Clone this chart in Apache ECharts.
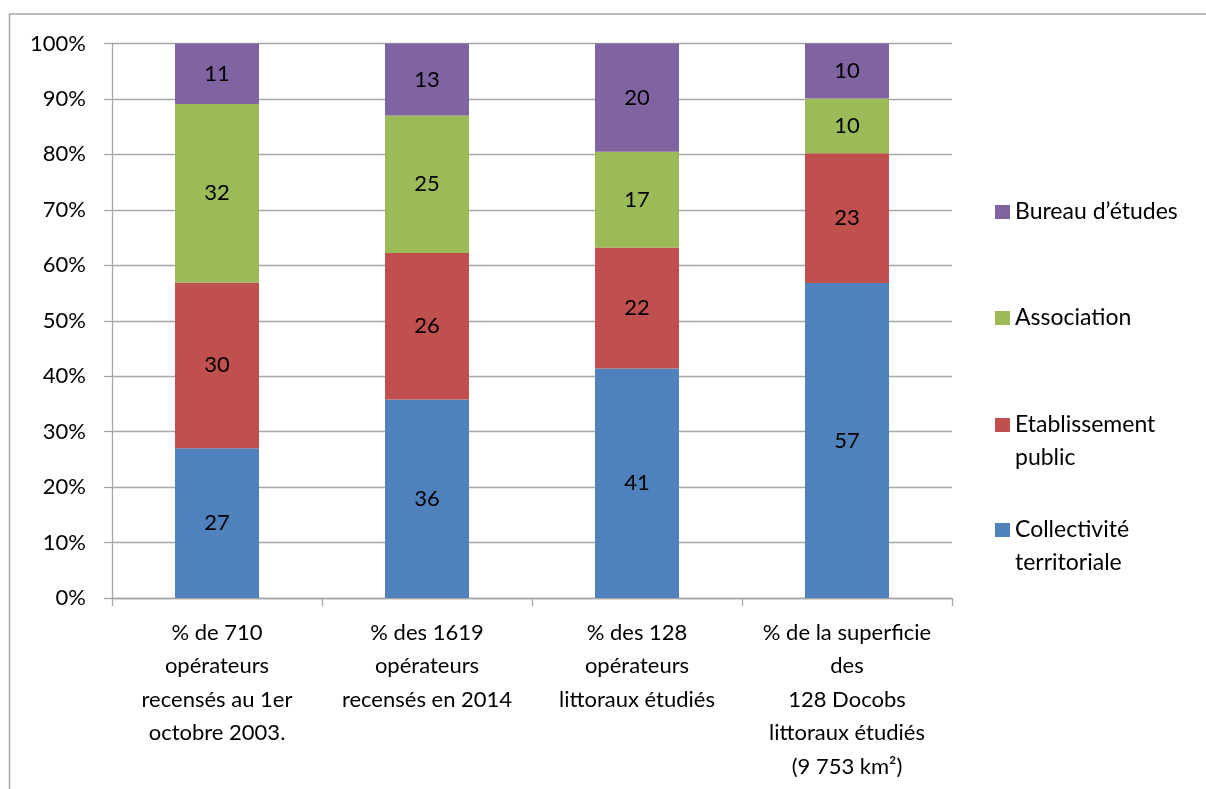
<!DOCTYPE html>
<html>
<head>
<meta charset="utf-8">
<script src="https://cdn.jsdelivr.net/npm/echarts@6/dist/echarts.min.js"></script>
<style>
  html, body { margin: 0; padding: 0; background: #fff; }
  #chart { width: 1206px; height: 789px; }
</style>
</head>
<body>
<div id="chart"></div>
<script>
// catégories (axe X)
var categories = [
  '% de 710\nopérateurs\nrecensés au 1er\noctobre 2003.',
  '% des 1619\nopérateurs\nrecensés en 2014',
  '% des 128\nopérateurs\nlittoraux étudiés',
  '% de la superficie\ndes\n128 Docobs\nlittoraux étudiés\n(9 753 km²)'
];
// parts en %
var collectivite = [27.0, 35.8, 41.4, 56.8];
var etablissement = [29.9, 26.4, 21.8, 23.4];
var association = [32.2, 24.8, 17.3, 9.9];
var bureau = [10.9, 13.0, 19.6, 10.0];

var legendNames = ['Collectivité\nterritoriale', 'Etablissement\npublic', 'Association', 'Bureau d’études'];
var colors = ['#4F81BD', '#C0504D', '#9BBB59', '#8064A2'];

var FONT = 'Lato';
var FS = 22;
var gridColor = '#a6a6a6';

var chart = echarts.init(document.getElementById('chart'));

function makeSeries(idx, data) {
  return {
    name: legendNames[idx],
    type: 'bar',
    stack: 'total',
    barWidth: '40%',
    data: data,
    itemStyle: {color: colors[idx]},
    label: {
      show: true,
      position: 'inside',
      color: '#000',
      fontFamily: FONT,
      fontSize: FS,
      formatter: function (p) { return Math.round(p.value); }
    }
  };
}

// une légende par entrée pour placer chacune comme dans l'original
// (pour les noms sur 2 lignes, une ligne vide au-dessus centre la 1re ligne sur le carré)
function makeLegend(name, top, twoLines) {
  return {
    data: [name],
    left: 995,
    top: top,
    padding: 0,
    icon: 'rect',
    itemWidth: 15,
    itemHeight: 14,
    selectedMode: false,
    formatter: twoLines ? ' \n{name}' : '{name}',
    textStyle: {
      color: '#000',
      fontFamily: FONT,
      fontSize: 23,
      lineHeight: 33
    }
  };
}

var option = {
  backgroundColor: '#fff',
  animation: false,
  grid: {left: 112, right: 254, top: 43.5, bottom: 191},
  graphic: [{
    type: 'rect',
    shape: {x: 9.5, y: 14, width: 1300, height: 900},
    style: {fill: 'none', stroke: gridColor, lineWidth: 1.5},
    silent: true
  }],
  legend: [
    makeLegend(legendNames[3], 195.5, false),
    makeLegend(legendNames[2], 301.5, false),
    makeLegend(legendNames[1], 375.5, true),
    makeLegend(legendNames[0], 480.5, true)
  ],
  xAxis: {
    type: 'category',
    data: categories,
    axisLine: {lineStyle: {color: gridColor, width: 1.3}},
    axisTick: {show: true, length: 8, lineStyle: {color: gridColor, width: 1.3}},
    axisLabel: {
      color: '#000',
      fontFamily: FONT,
      fontSize: FS,
      lineHeight: 33.5,
      margin: 18,
      interval: 0
    }
  },
  yAxis: {
    type: 'value',
    min: 0,
    max: 100,
    interval: 10,
    axisLine: {show: true, lineStyle: {color: gridColor, width: 1.3}},
    axisTick: {show: true, inside: false, length: 8, lineStyle: {color: gridColor, width: 1.3}},
    splitLine: {lineStyle: {color: gridColor, width: 1.3}},
    axisLabel: {
      color: '#000',
      fontFamily: FONT,
      fontSize: FS,
      margin: 26,
      formatter: '{value}%'
    }
  },
  series: [
    makeSeries(0, collectivite),
    makeSeries(1, etablissement),
    makeSeries(2, association),
    makeSeries(3, bureau)
  ]
};

chart.setOption(option);
</script>
</body>
</html>
